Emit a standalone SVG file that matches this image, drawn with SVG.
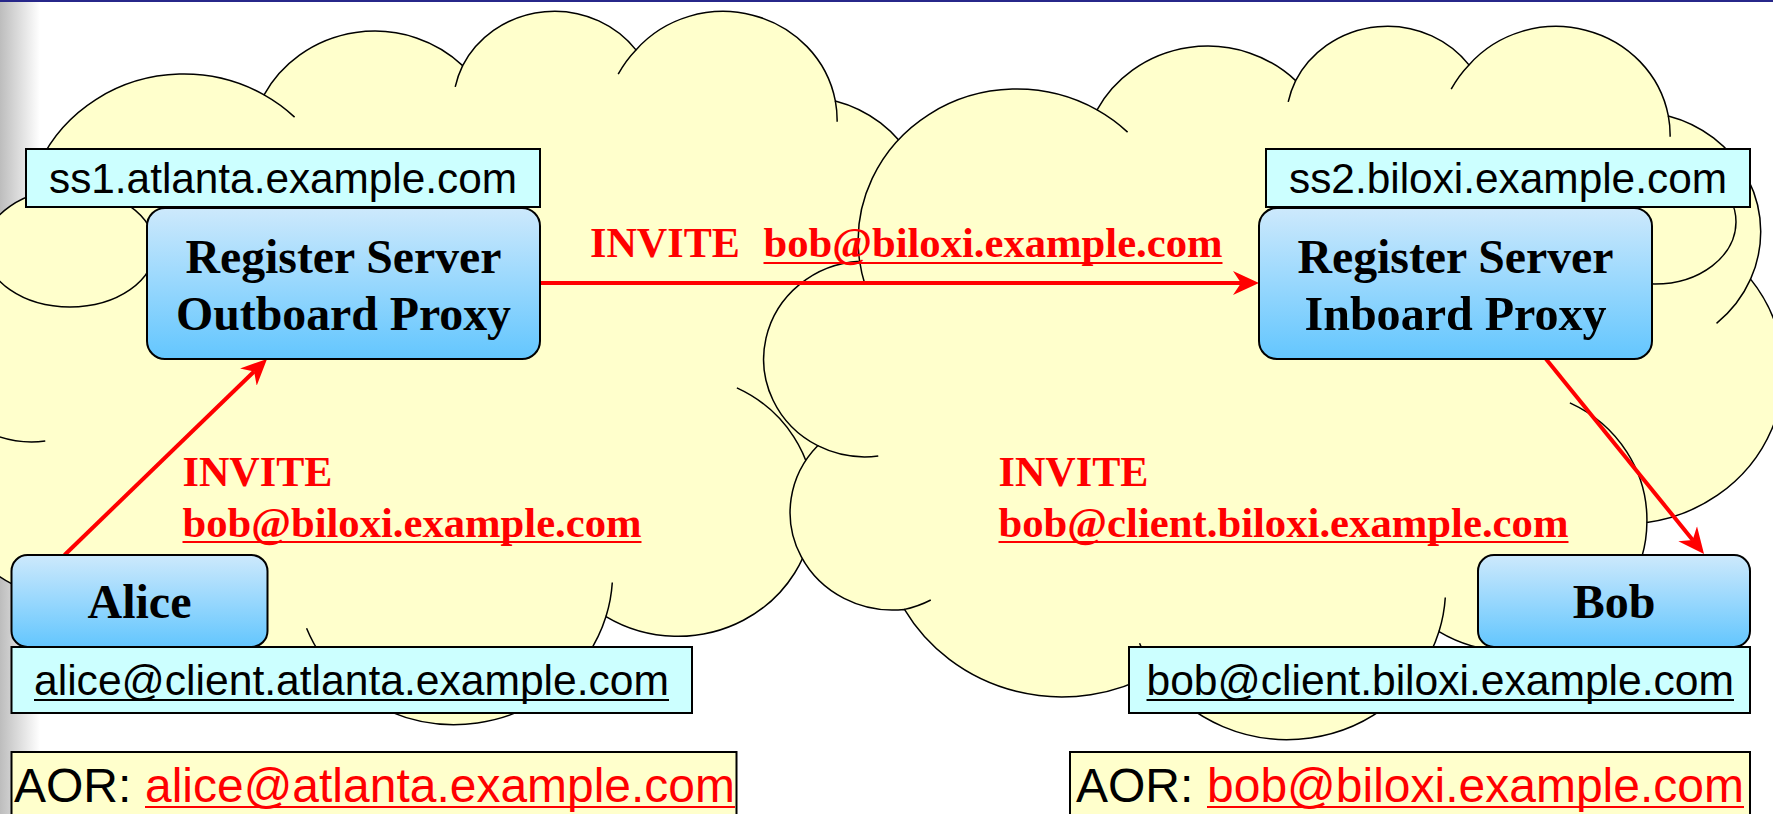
<svg xmlns="http://www.w3.org/2000/svg" xmlns:xlink="http://www.w3.org/1999/xlink" width="1773" height="814" viewBox="0 0 1773 814">
<style>
.lbl{fill:#CCFFFF;stroke:#000;stroke-width:2}
.node{fill:url(#blue);stroke:#000;stroke-width:2}
.aor{fill:#FFFFCC;stroke:#000;stroke-width:2}
.bub{fill:#FFFFCC;stroke:#000;stroke-width:1.5}
.sans{font-family:"Liberation Sans",Arial,sans-serif;font-size:42px;fill:#000}
.big{font-size:48px}
.serif{font-family:"Liberation Serif","Times New Roman",serif;font-weight:bold;font-size:48px;fill:#000}
.inv{font-family:"Liberation Serif","Times New Roman",serif;font-weight:bold;font-size:42px;fill:#FF0000}
.red{fill:#FF0000}
.ul{stroke:#000;stroke-width:2}
.ulr{stroke:#FF0000;stroke-width:2}
.conn{stroke:#FF0000;stroke-width:4;fill:none;marker-end:url(#ah)}
</style>
<defs>
<linearGradient id="blue" x1="0" y1="0" x2="0" y2="1">
<stop offset="0" stop-color="#CDE9FC"/>
<stop offset="1" stop-color="#63C6FE"/>
</linearGradient>
<linearGradient id="edge" x1="0" y1="0" x2="1" y2="0">
<stop offset="0" stop-color="#BDBDBD"/>
<stop offset="1" stop-color="#FFFFFF"/>
</linearGradient>
<marker id="ah" markerUnits="userSpaceOnUse" markerWidth="30" markerHeight="30" viewBox="0 -15 30 30" refX="8" refY="0" orient="auto">
<path d="M26,0 L0,-12 L8,0 L0,12 Z" fill="#FF0000"/>
</marker>
<g id="cloudShape">
<path fill="#FFFFCC" stroke="#000" stroke-width="1.5" vector-effect="non-scaling-stroke" d="M3900,14370 A6753,9190 0 0 1 14005.6,5202.6 A5333,7267 0 0 1 22457.4,3431 A4365,5945 0 0 1 29834.4,2478.1 A4857,6595 0 0 1 38319.6,5573.3 A5333,7273 0 0 1 41820.1,15457.3 A6775,9220 0 0 1 37407.1,30202.1 A5785,7867 0 0 1 28558.4,36812.1 A6752,9215 0 0 1 16483,39264.4 A7720,10543 0 0 1 5808,35468.2 A4360,5918 0 0 1 2114.7,25549.5 A4345,5945 0 0 1 3900,14370 Z"/>
<path fill="none" stroke="#000" stroke-width="1.5" vector-effect="non-scaling-stroke" d="M4693,26177 A4345,5945 0 0 1 2114.7,25549.5 M6928,34899 A4360,5918 0 0 1 5808,35468.2 M16483,39264.4 A6752,9215 0 0 1 15814.5,37522.1 M28827,34751 A6752,9215 0 0 1 28558.4,36812.1 M34129,22954 A5785,7867 0 0 1 37407.1,30202.1 M41820.1,15457.3 A5333,7273 0 0 1 40371,18134.5 M38319.6,5573.3 A4857,6595 0 0 1 38396,6837 M29078,3952 A4857,6595 0 0 1 29834.4,2478.1 M22141,4720 A4365,5945 0 0 1 22457.4,3431 M14005.6,5202.6 A6753,9190 0 0 1 15305,6550.7 M4127,15789 A6753,9190 0 0 1 3900,14370"/>
</g>
</defs>
<rect x="0" y="0" width="1773" height="814" fill="#FFFFFF"/>
<rect x="0" y="0" width="40" height="814" fill="url(#edge)"/>
<rect x="0" y="0" width="1773" height="2" fill="#27278A"/>
<g id="cloud-atlanta">
<use xlink:href="#cloudShape" transform="translate(-65,9) scale(0.0234954,0.0165046)"/>
<ellipse class="bub" cx="70" cy="248" rx="85" ry="59"/>
</g>
<g id="cloud-biloxi">
<use xlink:href="#cloudShape" transform="translate(768,24) scale(0.0234954,0.0165046)"/>
<ellipse class="bub" cx="1655" cy="222" rx="81" ry="62"/>
</g>
<g id="connectors">
<path class="conn" d="M64.5,555 L254.1,371.5"/>
<path class="conn" d="M540,283 L1241,283"/>
<path class="conn" d="M1546,359 L1692.7,540"/>
<text class="inv" x="590" y="257" textLength="150" lengthAdjust="spacingAndGlyphs">INVITE</text>
<text class="inv" x="763.5" y="257" textLength="459" lengthAdjust="spacingAndGlyphs">bob@biloxi.example.com</text>
<line class="ulr" x1="763.5" y1="263" x2="1222.5" y2="263"/>
<text class="inv" x="182.5" y="486" textLength="150" lengthAdjust="spacingAndGlyphs">INVITE</text>
<text class="inv" x="182.5" y="537" textLength="459" lengthAdjust="spacingAndGlyphs">bob@biloxi.example.com</text>
<line class="ulr" x1="182.5" y1="542" x2="641.5" y2="542"/>
<text class="inv" x="998.5" y="486" textLength="150" lengthAdjust="spacingAndGlyphs">INVITE</text>
<text class="inv" x="998.5" y="537" textLength="570" lengthAdjust="spacingAndGlyphs">bob@client.biloxi.example.com</text>
<line class="ulr" x1="998.5" y1="542" x2="1568.5" y2="542"/>
</g>
<g id="ss1">
<rect class="lbl" x="26" y="149" width="514" height="58"/>
<text class="sans" x="283" y="193" text-anchor="middle" textLength="468" lengthAdjust="spacingAndGlyphs">ss1.atlanta.example.com</text>
</g>
<g id="outboard-proxy">
<rect class="node" x="147" y="208" width="393" height="151" rx="18"/>
<text class="serif" x="343.5" y="273" text-anchor="middle" textLength="316" lengthAdjust="spacingAndGlyphs">Register Server</text>
<text class="serif" x="343.5" y="330" text-anchor="middle" textLength="335" lengthAdjust="spacingAndGlyphs">Outboard Proxy</text>
</g>
<g id="ss2">
<rect class="lbl" x="1266" y="149" width="484" height="58"/>
<text class="sans" x="1508" y="193" text-anchor="middle" textLength="438" lengthAdjust="spacingAndGlyphs">ss2.biloxi.example.com</text>
</g>
<g id="inboard-proxy">
<rect class="node" x="1259" y="208" width="393" height="151" rx="18"/>
<text class="serif" x="1455.5" y="273" text-anchor="middle" textLength="316" lengthAdjust="spacingAndGlyphs">Register Server</text>
<text class="serif" x="1455.5" y="330" text-anchor="middle" textLength="302" lengthAdjust="spacingAndGlyphs">Inboard Proxy</text>
</g>
<g id="alice">
<rect class="node" x="11.5" y="555" width="256" height="92" rx="16"/>
<text class="serif" x="139.5" y="618" text-anchor="middle">Alice</text>
<rect class="lbl" x="11.5" y="647" width="680.5" height="66"/>
<text class="sans" x="34" y="695" textLength="635" lengthAdjust="spacingAndGlyphs">alice@client.atlanta.example.com</text>
<line class="ul" x1="34" y1="700" x2="669" y2="700"/>
</g>
<g id="bob">
<rect class="node" x="1478" y="555" width="272" height="92" rx="16"/>
<text class="serif" x="1614" y="618" text-anchor="middle">Bob</text>
<rect class="lbl" x="1129" y="647" width="621" height="66"/>
<text class="sans" x="1146.5" y="695" textLength="587.5" lengthAdjust="spacingAndGlyphs">bob@client.biloxi.example.com</text>
<line class="ul" x1="1146.5" y1="700" x2="1734" y2="700"/>
</g>
<g id="aor-alice">
<rect class="aor" x="11.5" y="752" width="725" height="80"/>
<text class="sans big" x="14" y="802">AOR:</text>
<text class="sans big red" x="145" y="802" textLength="590" lengthAdjust="spacingAndGlyphs">alice@atlanta.example.com</text>
<line class="ulr" x1="145" y1="807" x2="735" y2="807"/>
</g>
<g id="aor-bob">
<rect class="aor" x="1070" y="752" width="680" height="80"/>
<text class="sans big" x="1076" y="802">AOR:</text>
<text class="sans big red" x="1207" y="802" textLength="537" lengthAdjust="spacingAndGlyphs">bob@biloxi.example.com</text>
<line class="ulr" x1="1207" y1="807" x2="1744" y2="807"/>
</g>
</svg>
